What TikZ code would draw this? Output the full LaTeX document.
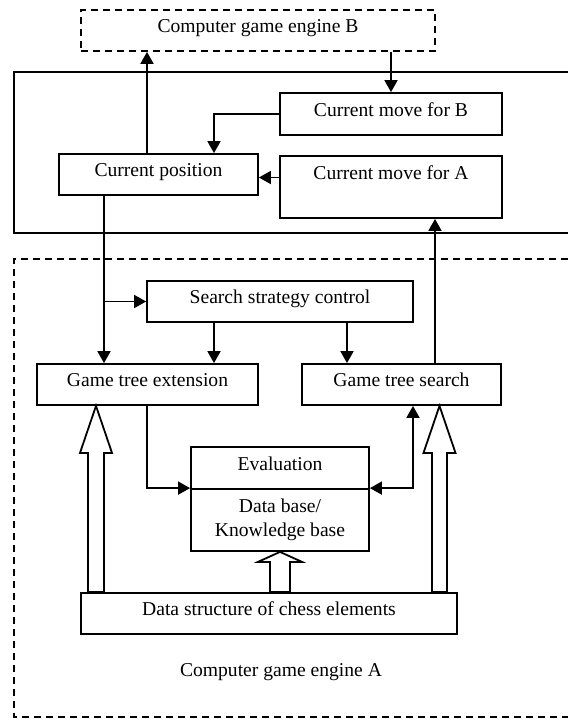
\documentclass[tikz,border=0pt]{standalone}
\usepackage{fontspec}
\setmainfont{Liberation Serif}
\usetikzlibrary{arrows.meta,positioning,calc}

% hollow block arrow: tip, foot, half shaft, half head, head length
\newcommand{\fatarrow}[5]{%
  \draw[fill=white] let \p1=#1, \p2=#2 in
    (\x2-#3,\y2) -- (\x2-#3,\y1-#5) -- (\x2-#4,\y1-#5) -- (\x1,\y1)
    -- (\x2+#4,\y1-#5) -- (\x2+#3,\y1-#5) -- (\x2+#3,\y2) -- cycle;}

\begin{document}
\begin{tikzpicture}[x=0.5pt, y=-0.5pt, >={Triangle[length=6pt,width=6.5pt]},
  line width=0.9pt, font=\fontsize{9.8}{11.8}\selectfont]
\tikzstyle{block}=[draw, rectangle, inner sep=0pt, text height=7pt, text depth=5pt]
\tikzstyle{dashed box}=[dash pattern=on 3.5pt off 2.5pt]
\useasboundingbox (0,0) rectangle (568,719);

% frames
\draw (568,72) -- (14,72) -- (14,233) -- (568,233);
\draw[dashed box] (568,259) -- (14,259) -- (14,717) -- (568,717);

\node[block, dashed box, minimum width=177pt, minimum height=20.5pt] (engB) at (258,30.5) {Computer game engine B};
\node[block, minimum width=111pt, minimum height=21pt] (moveB) at (391,114) {Current move for B};
\node[block, minimum width=99.5pt, minimum height=20.5pt] (pos) at (158.5,174.5) {Current position};
\node[block, minimum width=111pt, minimum height=31pt, text depth=15pt] (moveA) at (391,187) {Current move for A};
\node[block, minimum width=133pt, minimum height=20.5pt] (ssc) at (280,301.5) {Search strategy control};
\node[block, minimum width=110.5pt, minimum height=20.5pt] (ext) at (147.5,384.5) {Game tree extension};
\node[block, minimum width=99.5pt, minimum height=20.5pt] (gts) at (401.5,384.5) {Game tree search};
\node[block, minimum width=89pt, minimum height=21pt] (eval) at (280,468) {Evaluation};
\node[draw, inner sep=0pt, minimum width=89pt, minimum height=31pt, align=center] (kb) at (280,520) {Data base/\\Knowledge base};
\node[block, minimum width=188pt, minimum height=20.5pt] (ds) at (269,613.5) {Data structure of chess elements};
\node[anchor=base] (engA) at (281,676) {Computer game engine A};

\coordinate (cp) at ($(pos.south)+(-54.5,0)$);
\coordinate (pa) at ($(pos.east)+(0,3)$);
\coordinate (pb) at ($(pos.north)+(-11.5,0)$);
\coordinate (sl) at ($(ssc.south)+(-66,0)$);
\coordinate (sr) at ($(ssc.south)+(67,0)$);
\coordinate (gm) at ($(gts.north)+(33.5,0)$);
\coordinate (es) at ($(ext.south)+(-0.5,0)$);

\draw[->] (engB.south -| moveB.north) -- (moveB.north);
\draw[->] (pb) -- (pb |- engB.south);
\draw[->] (moveB.west) -| ($(pos.north)+(55.5,0)$);
\draw[->] (moveA.west |- pa) -- (pa);
\draw[->] (cp) -- (cp |- ext.north);
\draw[->] (cp |- ssc.west) -- (ssc.west);
\draw[->] (sl) -- (sl |- ext.north);
\draw[->] (sr) -- (sr |- gts.north);
\draw[->] (gm) -- (gm |- moveA.south);
\draw[->] (es) |- (kb.north west);
\draw[<->] (kb.north east) -| ($(gts.south)+(11.5,0)$);

% hollow arrows from the data structure
\coordinate (t1) at ($(ext.south)+(-51.5,0)$);
\coordinate (t2) at ($(gts.south)+(38,0)$);
\fatarrow{(t1)}{(t1 |- ds.north)}{4pt}{8pt}{23.5pt}
\fatarrow{(t2)}{(t2 |- ds.north)}{3.75pt}{8pt}{23.5pt}
\fatarrow{(kb.south)}{(kb.south |- ds.north)}{5pt}{11pt}{5pt}
\end{tikzpicture}
\end{document}
